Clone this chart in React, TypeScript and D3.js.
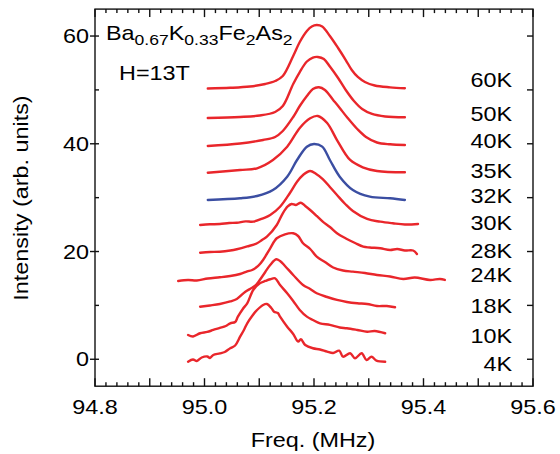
import React from 'react';
import * as d3 from 'd3';

// NMR spectra, [freq (MHz), intensity offset]
const k60: [number, number][] = [
  [95.006, 50.26], [95.047, 50.39], [95.083, 50.63], [95.111, 51.1], [95.129, 51.65], [95.143, 52.58],
  [95.162, 56.29], [95.174, 58.89], [95.187, 60.93], [95.196, 61.77], [95.205, 62.04], [95.215, 61.77],
  [95.229, 60.0], [95.244, 57.78], [95.258, 55.55], [95.269, 53.7], [95.28, 52.4], [95.293, 51.47],
  [95.311, 50.82], [95.339, 50.48], [95.366, 50.3],
];
const k50: [number, number][] = [
  [95.006, 44.78], [95.065, 44.97], [95.101, 45.25], [95.129, 45.9], [95.143, 47.01], [95.162, 51.1],
  [95.174, 53.32], [95.187, 55.27], [95.198, 56.01], [95.207, 56.11], [95.218, 55.74], [95.229, 54.34],
  [95.244, 52.21], [95.258, 49.98], [95.273, 47.94], [95.288, 46.45], [95.306, 45.53], [95.33, 45.06],
  [95.366, 44.92],
];
const k40: [number, number][] = [
  [95.006, 39.59], [95.065, 40.05], [95.107, 40.7], [95.129, 41.26], [95.143, 42.37], [95.162, 44.97],
  [95.174, 47.01], [95.187, 48.87], [95.198, 50.17], [95.209, 50.48], [95.22, 49.98], [95.235, 48.13],
  [95.247, 46.64], [95.26, 44.97], [95.279, 42.74], [95.295, 41.26], [95.315, 40.24], [95.339, 39.9],
  [95.366, 39.77],
];
const k35: [number, number][] = [
  [95.006, 34.63], [95.065, 35.13], [95.096, 35.45], [95.125, 36.99], [95.151, 39.46], [95.174, 42.93],
  [95.193, 44.73], [95.207, 45.16], [95.224, 43.86], [95.242, 40.7], [95.266, 36.99], [95.289, 35.63],
  [95.315, 34.95], [95.366, 34.71],
];
const k32: [number, number][] = [
  [95.006, 29.57], [95.065, 29.88], [95.096, 30.31], [95.125, 31.42], [95.151, 33.89], [95.169, 36.99],
  [95.187, 39.46], [95.2, 39.96], [95.215, 39.46], [95.229, 36.99], [95.247, 33.89], [95.271, 31.42],
  [95.302, 30.18], [95.339, 29.88], [95.366, 29.57],
];
const k30: [number, number][] = [
  [94.992, 24.93], [95.01, 25.05], [95.028, 25.11], [95.045, 25.3], [95.059, 25.35], [95.075, 25.6],
  [95.089, 25.54], [95.107, 26.17], [95.12, 26.78], [95.138, 28.32], [95.156, 30.87], [95.169, 32.96],
  [95.18, 34.21], [95.193, 34.95], [95.204, 34.39], [95.216, 33.46], [95.229, 31.98], [95.242, 30.49],
  [95.257, 28.82], [95.271, 27.52], [95.297, 26.04], [95.321, 25.54], [95.344, 25.24], [95.366, 25.02],
  [95.39, 25.11],
];
const k28: [number, number][] = [
  [94.992, 19.78], [95.01, 19.91], [95.028, 19.97], [95.047, 20.19], [95.059, 20.42], [95.078, 20.94],
  [95.096, 21.53], [95.105, 22.14], [95.114, 22.75], [95.132, 24.93], [95.143, 27.1], [95.152, 28.36],
  [95.159, 28.82], [95.167, 28.64], [95.176, 29.06], [95.184, 28.45], [95.193, 27.71], [95.205, 26.6],
  [95.216, 25.54], [95.229, 24.55], [95.242, 23.39], [95.26, 22.33], [95.275, 21.58], [95.29, 20.9],
  [95.302, 20.75], [95.321, 20.6], [95.339, 20.29], [95.352, 20.47], [95.366, 20.19], [95.381, 20.19],
  [95.388, 19.54],
];
const k24: [number, number][] = [
  [94.952, 14.53], [94.97, 14.72], [94.986, 14.63], [95.006, 15.0], [95.028, 15.22], [95.047, 15.46],
  [95.065, 15.83], [95.078, 16.3], [95.087, 16.57], [95.098, 17.32], [95.107, 18.43], [95.12, 20.6],
  [95.132, 22.46], [95.147, 23.2], [95.162, 23.39], [95.171, 22.88], [95.18, 21.53], [95.193, 20.47],
  [95.205, 19.04], [95.22, 18.06], [95.235, 17.04], [95.253, 16.48], [95.271, 16.26], [95.293, 16.02],
  [95.315, 15.65], [95.339, 15.37], [95.363, 14.9], [95.384, 15.18], [95.412, 14.72], [95.43, 14.9],
  [95.439, 14.72],
];
const k18: [number, number][] = [
  [94.992, 9.76], [95.01, 9.99], [95.028, 10.26], [95.047, 10.73], [95.059, 11.19], [95.074, 12.49],
  [95.083, 13.05], [95.092, 13.6], [95.101, 14.72], [95.111, 16.2], [95.12, 17.5], [95.131, 18.56],
  [95.138, 18.24], [95.147, 17.32], [95.162, 15.65], [95.18, 13.79], [95.193, 13.05], [95.205, 12.25],
  [95.224, 11.56], [95.242, 11.01], [95.26, 10.63], [95.279, 10.39], [95.297, 10.26], [95.315, 9.89],
  [95.333, 9.89], [95.348, 9.65],
];
const k10: [number, number][] = [
  [94.97, 4.51], [94.979, 4.23], [94.992, 4.83], [95.005, 5.07], [95.016, 5.44], [95.028, 5.81],
  [95.039, 6.18], [95.047, 6.68], [95.056, 6.92], [95.061, 7.91], [95.07, 9.34], [95.078, 10.39],
  [95.089, 12.86], [95.101, 14.11], [95.111, 14.53], [95.12, 14.85], [95.129, 15.03], [95.138, 13.79],
  [95.151, 12.25], [95.162, 10.82], [95.174, 9.15], [95.187, 7.91], [95.198, 7.29], [95.211, 6.68],
  [95.229, 6.37], [95.247, 5.9], [95.26, 5.75], [95.279, 5.44], [95.297, 5.12], [95.311, 5.25],
  [95.33, 4.83],
];
const k4: [number, number][] = [
  [94.97, -0.45], [94.979, -0.04], [94.986, -0.32], [94.995, 0.33], [95.005, 0.52], [95.01, 0.24],
  [95.016, 0.8], [95.028, 1.08], [95.037, 1.35], [95.047, 2.04], [95.056, 2.56], [95.065, 4.19],
  [95.072, 5.44], [95.078, 6.68], [95.087, 8.04], [95.096, 9.15], [95.107, 10.08], [95.114, 10.26],
  [95.122, 9.52], [95.127, 8.83], [95.134, 8.59], [95.138, 7.91], [95.151, 6.05], [95.162, 4.7],
  [95.171, 3.27], [95.176, 3.71], [95.184, 2.65], [95.198, 2.04], [95.211, 1.82], [95.224, 1.41],
  [95.235, 1.17], [95.246, 1.6], [95.253, 0.48], [95.266, 1.11], [95.275, 0.19], [95.287, 1.11],
  [95.296, -0.13], [95.305, 0.48], [95.314, -0.26], [95.33, -0.45],
];

const series = [k60, k50, k40, k35, k32, k30, k28, k24, k18, k10, k4];
const tempLabels = ['60K', '50K', '40K', '35K', '32K', '30K', '28K', '24K', '18K', '10K', '4K'];
const labelLevels = [50.48, 44.28, 39.27, 33.59, 28.95, 24.0, 18.75, 14.4, 8.65, 3.08, -2.12];
const xTickLabels = ['94.8', '95.0', '95.2', '95.4', '95.6'];
const yTickLabels = ['0', '20', '40', '60'];

const RED = '#e9262b';
const BLUE = '#3b4ea2';
const FONT = '"Liberation Sans", Arial, Helvetica, sans-serif';
const SX = 1.17; // glyphs in the figure are wider than Arial

const T = ({ x, y, size = 20, anchor = 'start', rot = false, children }: any) => (
  <text
    transform={`translate(${x},${y})${rot ? ' rotate(-90)' : ''} scale(${SX},1)`}
    fontSize={size}
    textAnchor={anchor}
    fontFamily={FONT}
    fill="#000"
  >
    {children}
  </text>
);

export default function App() {
  const x = d3.scaleLinear().domain([94.8, 95.6]).range([95, 533]);
  const y = d3.scaleLinear().domain([-5, 65]).range([386.2, 9.1]);

  const line = d3
    .line<[number, number]>()
    .x((d) => x(d[0]))
    .y((d) => y(d[1]))
    .curve(d3.curveCatmullRom.alpha(0.5));

  const xt = d3.range(0, 41).map((i) => 94.8 + i * 0.02);
  const [x0, x1] = x.range();
  const yb = y(-5);
  const yt = y(65);

  return (
    <svg width={560} height={454} style={{ position: 'absolute', left: 0, top: 0 }}>
      <rect width={560} height={454} fill="#fff" />
      {series.map((s, i) => (
        <path
          key={tempLabels[i]}
          d={line(s) || ''}
          fill="none"
          stroke={tempLabels[i] === '32K' ? BLUE : RED}
          strokeWidth={2.4}
          strokeLinejoin="round"
          strokeLinecap="round"
        />
      ))}

      <g stroke="#111" strokeWidth={1.4}>
        <rect x={x0} y={yt} width={x1 - x0} height={yb - yt} fill="none" />
        {xt.map((v, i) => {
          const len = i % 5 === 0 ? 8 : 4;
          return (
            <g key={i}>
              <line x1={x(v)} x2={x(v)} y1={yb} y2={yb - len} />
              <line x1={x(v)} x2={x(v)} y1={yt} y2={yt + len} />
            </g>
          );
        })}
        {d3.range(0, 61, 10).map((v) => (
          <g key={v}>
            {v % 20 === 0 ? (
              <line x1={x0 - 5} x2={x0 + 4} y1={y(v)} y2={y(v)} />
            ) : (
              <line x1={x0} x2={x0 + 4} y1={y(v)} y2={y(v)} />
            )}
            <line x1={x1} x2={x1 - 6} y1={y(v)} y2={y(v)} />
          </g>
        ))}
      </g>

      {xTickLabels.map((t) => (
        <T key={t} x={x(+t)} y={414} anchor="middle">
          {t}
        </T>
      ))}
      {yTickLabels.map((t) => (
        <T key={t} x={89} y={y(+t) + 7} anchor="end">
          {t}
        </T>
      ))}

      <T x={313} y={447} anchor="middle">
        Freq. (MHz)
      </T>
      <T x={28} y={198} anchor="middle" rot>
        Intensity (arb. units)
      </T>

      <text transform={`translate(106,39.5) scale(${SX},1)`} fontFamily={FONT} fontSize={20}>
        <tspan>Ba</tspan>
        <tspan fontSize={15} dy={5.5}>0.67</tspan>
        <tspan dy={-5.5}>K</tspan>
        <tspan fontSize={15} dy={5.5}>0.33</tspan>
        <tspan dy={-5.5}>Fe</tspan>
        <tspan fontSize={15} dy={5.5}>2</tspan>
        <tspan dy={-5.5}>As</tspan>
        <tspan fontSize={15} dy={5.5}>2</tspan>
      </text>
      <T x={119} y={80}>
        H=13T
      </T>

      {tempLabels.map((t, i) => (
        <T key={t} x={512} y={y(labelLevels[i])} anchor="end">
          {t}
        </T>
      ))}
    </svg>
  );
}
